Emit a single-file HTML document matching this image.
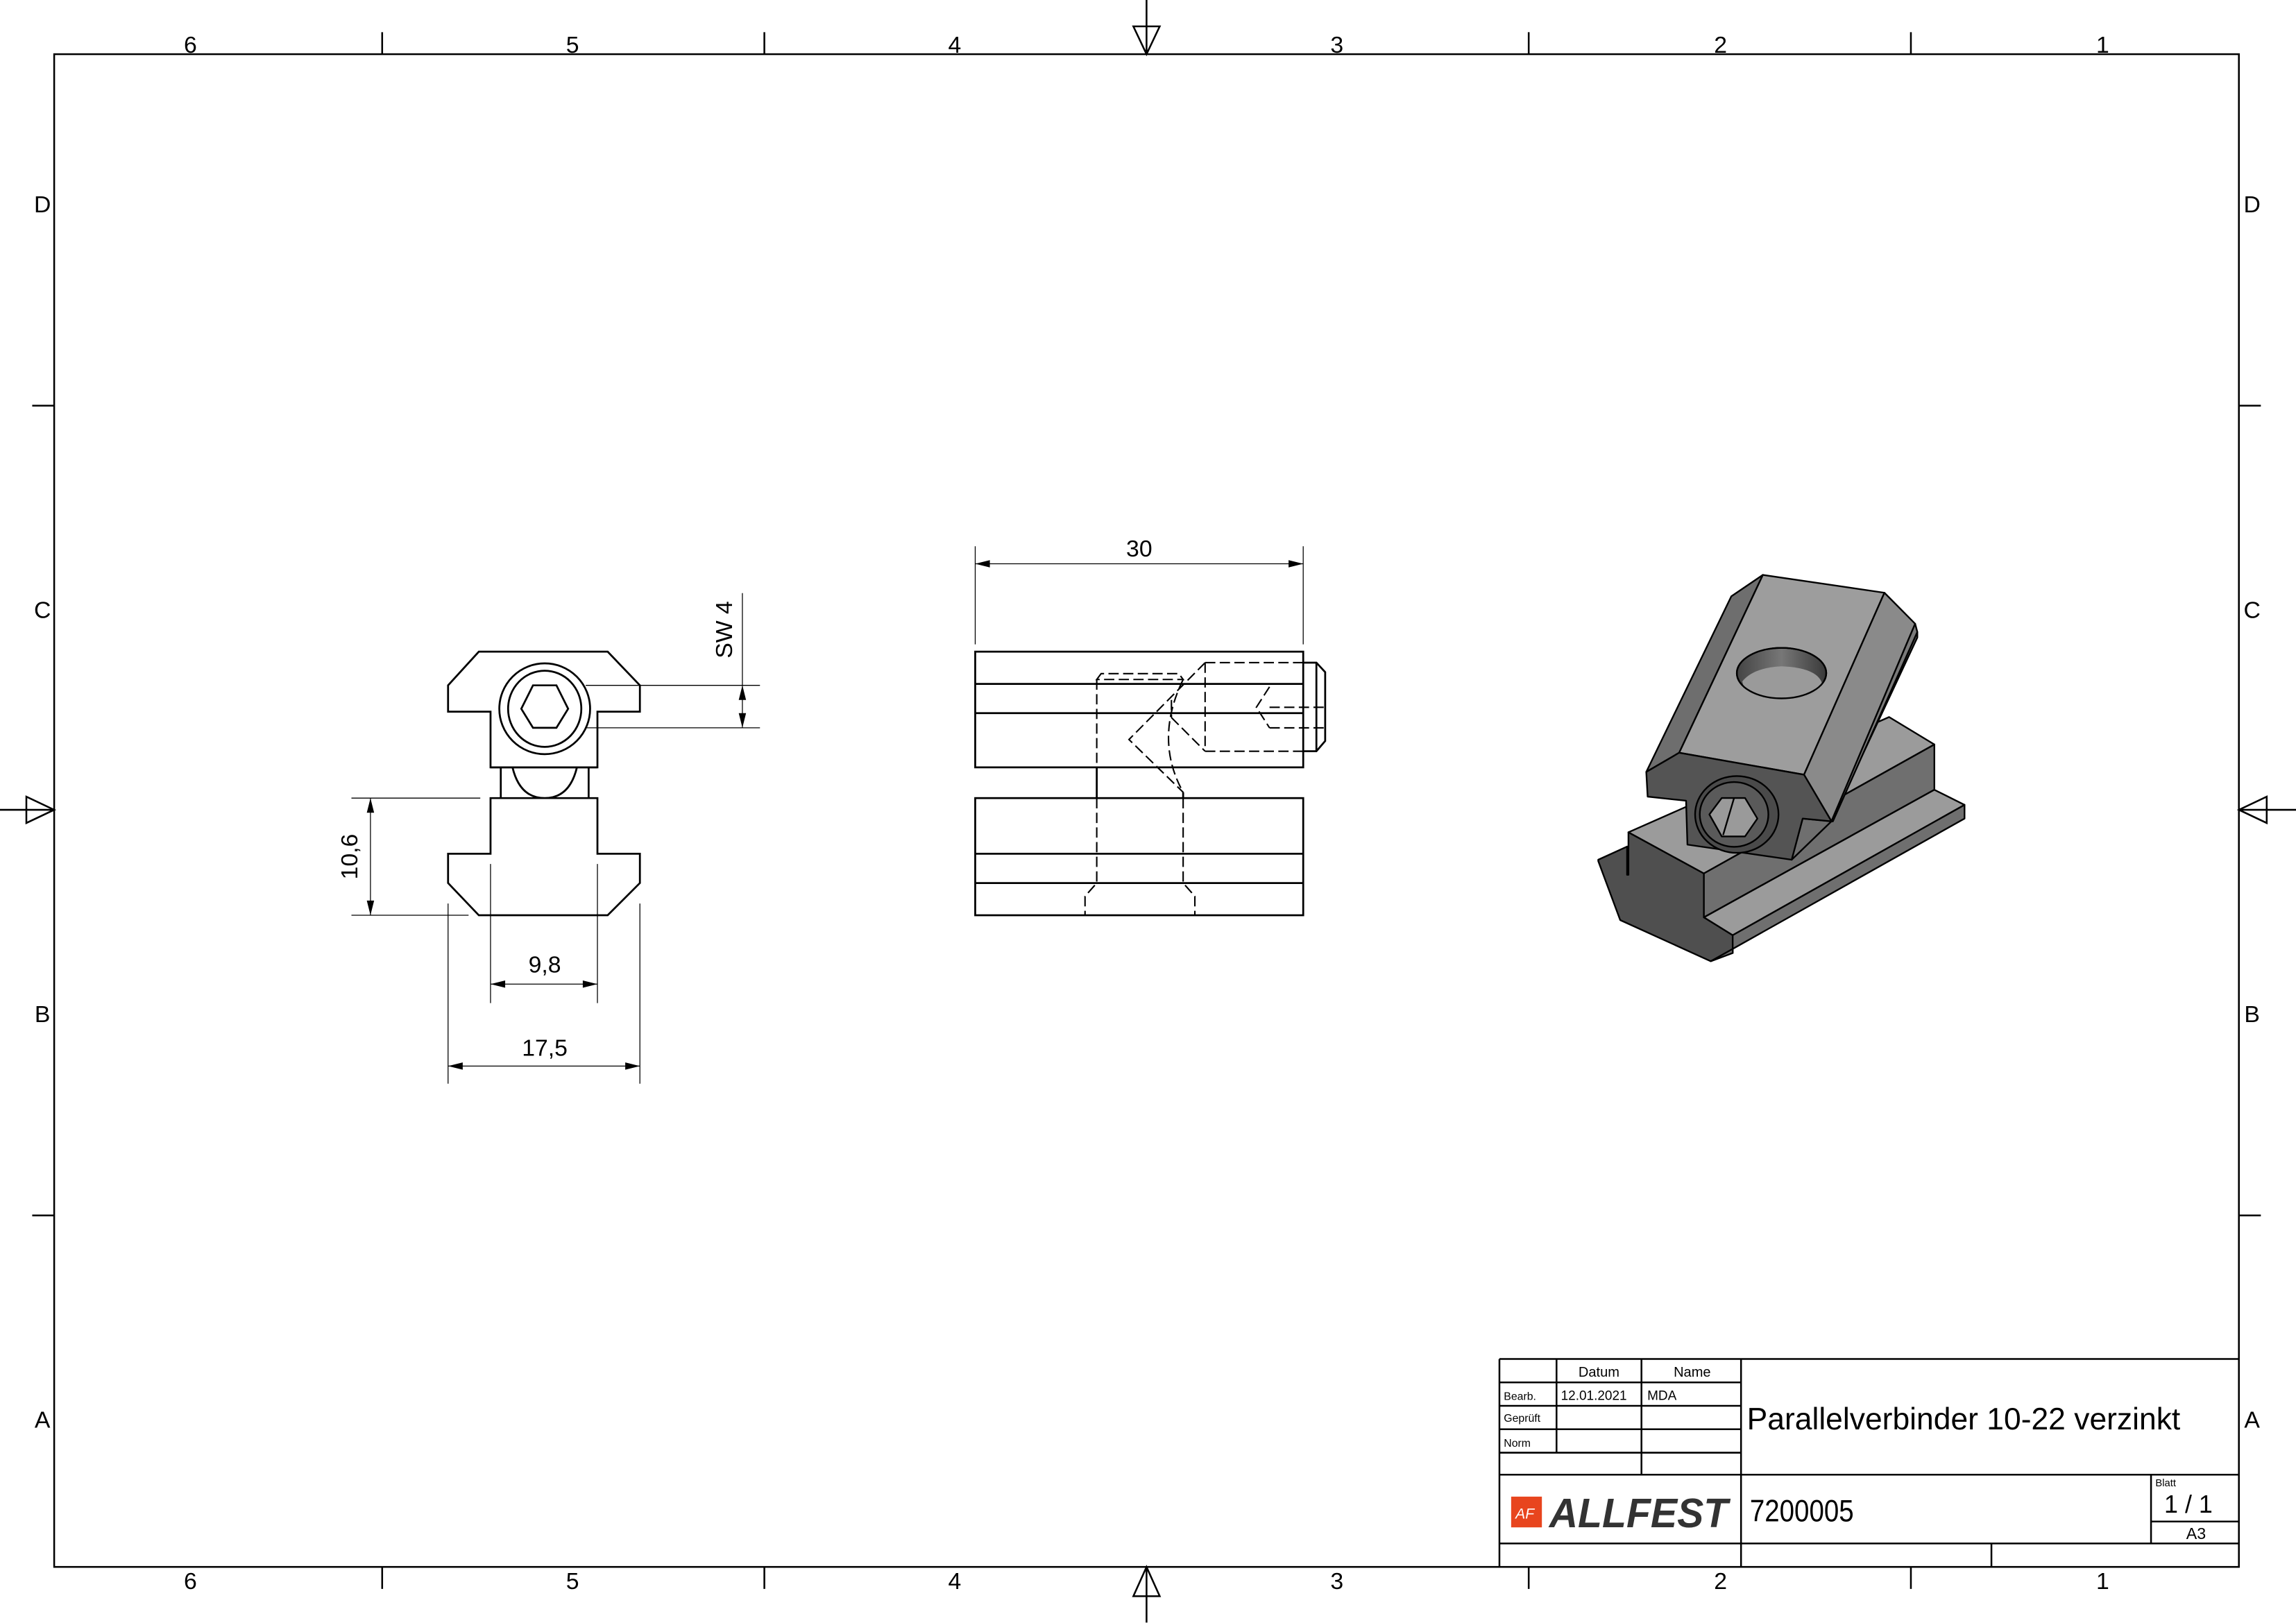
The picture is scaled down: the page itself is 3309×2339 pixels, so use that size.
<!DOCTYPE html>
<html><head><meta charset="utf-8"><style>
html,body{margin:0;padding:0;background:#fff}
svg{display:block}
text{font-family:"Liberation Sans Narrow","Liberation Sans",sans-serif;fill:#000}
</style></head><body>
<svg width="3309" height="2339" viewBox="0 0 1568 1108.3" preserveAspectRatio="none" xmlns="http://www.w3.org/2000/svg">
<rect width="1568" height="1108.3" fill="#fff"/>
<g stroke="#000" fill="none" stroke-width="1.2">
<rect x="37" y="37" width="1492" height="1033"/>
<path d="M261,22V37 M522,22V37 M1044,22V37 M1305,22V37 M261,1070V1085 M522,1070V1085 M1044,1070V1085 M1305,1070V1085 M22,277H37 M22,830H37 M1529,277H1544 M1529,830H1544"/>
<path d="M783,0V37 M774,18H792L783,37Z M783,1108V1070 M774,1090H792L783,1070Z M0,553H37 M18,544V562L37,553Z M1568,553H1529 M1548,544V562L1529,553Z"/>
</g>
<g font-size="16" text-anchor="middle">
<text x="130" y="36">6</text><text x="391" y="36">5</text><text x="652" y="36">4</text><text x="913" y="36">3</text><text x="1175" y="36">2</text><text x="1436" y="36">1</text>
<text x="130" y="1085">6</text><text x="391" y="1085">5</text><text x="652" y="1085">4</text><text x="913" y="1085">3</text><text x="1175" y="1085">2</text><text x="1436" y="1085">1</text>
<text x="29" y="145">D</text><text x="29" y="422">C</text><text x="29" y="698">B</text><text x="29" y="975">A</text>
<text x="1538" y="145">D</text><text x="1538" y="422">C</text><text x="1538" y="698">B</text><text x="1538" y="975">A</text>
</g>

<g stroke="#000" fill="none" stroke-width="1.3" stroke-linejoin="miter">
<path d="M327,445H415L437,468V486H408V524H335V486H306V468Z"/>
<path d="M335,545H408V583H437V603L415,625H327L306,603V583H335Z"/>
<path d="M342,524V545 M402,524V545 M335,524H408"/>
<path d="M350,524Q355,545 372,545Q389,545 394,524"/>
<ellipse cx="372" cy="484" rx="31" ry="31"/>
<ellipse cx="372" cy="484" rx="25" ry="26"/>
<path d="M364,468H380L388,484L380,497H364L356,484Z"/>
</g>
<g stroke="#000" fill="none" stroke-width="0.6">
<path d="M240,545H328 M240,625H320 M253,545V625 M335,590V685 M408,590V685 M306,617V740 M437,617V740 M335,672H408 M306,728H437 M400,468H519 M400,497H519 M507,405V497"/>
</g>
<g fill="#000">
<path d="M253,545l-2.5,10h5Z M253,625l-2.5,-10h5Z M335,672l10,-2.5v5Z M408,672l-10,-2.5v5Z M306,728l10,-2.5v5Z M437,728l-10,-2.5v5Z M507,468l-2.5,10h5Z M507,497l-2.5,-10h5Z"/>
</g>
<g font-size="16" text-anchor="middle">
<text x="372" y="664">9,8</text>
<text x="372" y="721">17,5</text>
<text transform="translate(244,585) rotate(-90)">10,6</text>
<text transform="translate(500,430) rotate(-90)">SW 4</text>
<text x="778" y="380">30</text>
</g>

<g stroke="#000" fill="none" stroke-width="0.6">
<path d="M666,373V440 M890,373V440 M666,385H890"/>
</g>
<path d="M666,385l10,-2.5v5Z M890,385l-10,-2.5v5Z" fill="#000"/>
<g stroke="#000" fill="none" stroke-width="1.3">
<rect x="666" y="445" width="224" height="79"/>
<path d="M666,467H890 M666,487H890"/>
<rect x="666" y="545" width="224" height="80"/>
<path d="M666,583H890 M666,603H890"/>
<path d="M890,452.5H899L905,459V506L899,513H890 M899,452.5V513"/>
<path d="M749,524V545 M808,541V545"/>
</g>
<g stroke="#000" fill="none" stroke-width="1" stroke-dasharray="7,3">
<path d="M749,464L752,460H805L808,464Z M749,464V524 M749,545V603L741,612V625 M808,545V603L816,612V625"/>
<path d="M823,452.5H890 M823,513H890 M823,452.5V513 M823,452.5L771,505L808,541 M800,490L823,513 M800,478V490"/>
<path d="M808,464Q788,505 808,541"/>
<path d="M867,469L858,483L867,497 M867,483H905 M867,497H905"/>
</g>

<defs>
<linearGradient id="hole" x1="0" y1="0" x2="1" y2="0">
<stop offset="0" stop-color="#444"/><stop offset="0.5" stop-color="#777"/><stop offset="1" stop-color="#3a3a3a"/>
</linearGradient>
</defs>
<g transform="translate(1066.2,379.1) scale(0.18737)" stroke="#000" stroke-width="6" stroke-linejoin="round">
<path fill="#4f4f4f" d="M135,1110L240,1062V1165L245,1165V1010L520,1160V1320L625,1385V1450L545,1480L215,1330L135,1115Z"/>
<path fill="#9b9b9b" d="M245,1010L1195,590L1360,690L520,1160Z"/>
<path fill="#6f6f6f" d="M520,1160L1360,690V855L520,1320Z"/>
<path fill="#9b9b9b" d="M520,1320L1360,855L1470,910L625,1385Z"/>
<path fill="#6f6f6f" d="M625,1385L1470,910V960L545,1480L625,1450Z"/>
<path fill="#6f6f6f" d="M1298,280L990,970L880,960L840,1110L985,970L1298,300Z"/>
<path fill="#6e6e6e" d="M620,150L735,72L430,720L310,790Z"/>
<path fill="#9d9d9d" d="M735,72L1178,137L885,800L430,720Z"/>
<path fill="#8a8a8a" d="M1178,137L1290,250L985,970L885,800Z"/>
<path fill="#7a7a7a" d="M1290,250L1298,280L990,970L985,970Z"/>
<path fill="#545454" d="M310,790L430,720L885,800L985,970L880,960L840,1110L460,1055L455,895L315,880Z"/>
<ellipse cx="803" cy="430" rx="163" ry="92" fill="url(#hole)"/>
<path fill="#9a9a9a" stroke="none" d="M660,460Q700,410 803,405Q930,410 950,465Q940,525 803,525Q670,525 660,460Z"/>
<ellipse cx="803" cy="430" rx="163" ry="92" fill="none"/>
<ellipse cx="640" cy="945" rx="152" ry="140" fill="#4a4a4a"/>
<ellipse cx="630" cy="945" rx="125" ry="118" fill="#5a5a5a"/>
<path fill="#9a9a9a" d="M585,885H670L715,960L670,1025H585L540,945Z"/>
<path d="M630,885L590,1020" fill="none"/>
</g>

<g stroke="#000" fill="none" stroke-width="1.2">
<path d="M1024,928H1529 M1024,928V1070 M1189,928V1070 M1024,1007H1529 M1024,1054H1529 M1063,928V992 M1121,928V1007 M1024,944H1189 M1024,960H1189 M1024,976H1189 M1024,992H1189 M1469,1007V1054 M1469,1039H1529 M1360,1054V1070"/>
</g>
<g font-size="9.5">
<text x="1078" y="940">Datum</text><text x="1143" y="940">Name</text>
<text x="1027" y="956" font-size="7.5">Bearb.</text><text x="1066" y="956" font-size="9">12.01.2021</text><text x="1125" y="956" font-size="9">MDA</text>
<text x="1027" y="971" font-size="7.5">Geprüft</text>
<text x="1027" y="988" font-size="7.5">Norm</text>
<text x="1193" y="976" font-size="21" textLength="296" lengthAdjust="spacingAndGlyphs">Parallelverbinder 10-22 verzinkt</text>
<text x="1195" y="1039" font-size="21" textLength="71" lengthAdjust="spacingAndGlyphs">7200005</text>
<text x="1472" y="1015" font-size="7">Blatt</text>
<text x="1478" y="1033" font-size="17">1 / 1</text>
<text x="1493" y="1051" font-size="11">A3</text>
</g>
<rect x="1032" y="1022" width="21" height="21" fill="#e8451e"/>
<text x="1035" y="1037" font-size="10" font-style="italic" style="fill:#fff">AF</text>
<text x="1058" y="1043" font-size="28" font-weight="bold" font-style="italic" style="fill:#333;font-family:'Liberation Sans',sans-serif" textLength="122" lengthAdjust="spacingAndGlyphs">ALLFEST</text>
</svg>
</body></html>
